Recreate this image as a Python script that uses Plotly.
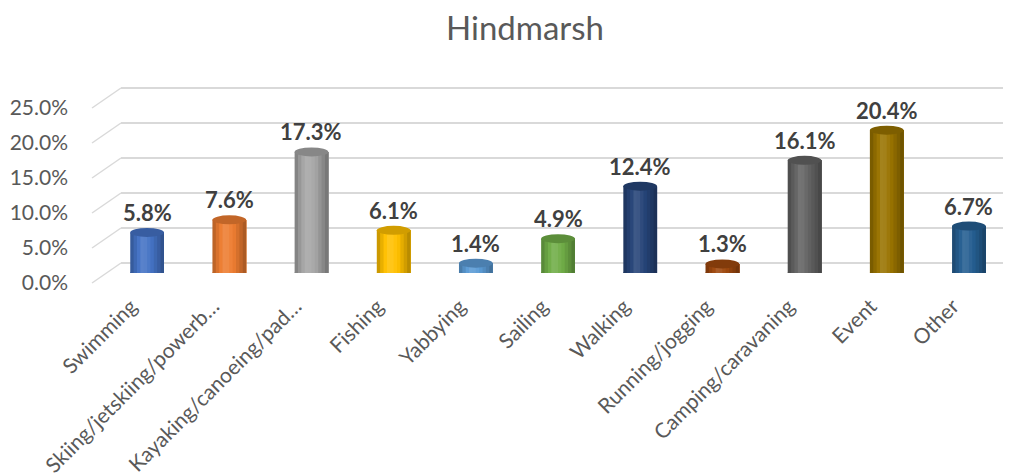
import numpy as np
import plotly.graph_objects as go

# data
categories = [
    "Swimming",
    "Skiing/jetskiing/powerb…",
    "Kayaking/canoeing/pad…",
    "Fishing",
    "Yabbying",
    "Sailing",
    "Walking",
    "Running/jogging",
    "Camping/caravaning",
    "Event",
    "Other",
]
shares = [0.058, 0.076, 0.173, 0.061, 0.014, 0.049, 0.124, 0.013, 0.161, 0.204, 0.067]
y_ticks = [0.0, 0.05, 0.10, 0.15, 0.20, 0.25]
chart_title = "Hindmarsh"

# office palette, one per bar
bar_colors = [
    "#4472C4", "#ED7D31", "#A5A5A5", "#FFC000", "#5B9BD5", "#70AD47",
    "#264478", "#9E480E", "#636363", "#997300", "#255E91",
]

# the page body has the default 8px margin, so work in page pixels and shift
OFF = 8
W, H = 1011 - OFF, 476 - OFF
FONT = "Lato"
GRID = "#D9D9D9"
TEXT = "#595959"
BAR_W = 0.41
N_STRIPS = 10
ELL = 0.0064  # half height of the cylinder ellipses, in data units
PAD = 0.005   # so the boundary gridlines (0% and 25%) still get drawn


def px(p):
    return (p - OFF) / W


def py(p):
    return 1 - (p - OFF) / H


def shade(hex_color: str, f: float) -> str:
    hex_color = hex_color.lstrip("#")
    rgb = [int(hex_color[i:i + 2], 16) for i in (0, 2, 4)]
    if f >= 1:
        rgb = [c + (255 - c) * (f - 1) for c in rgb]
    else:
        rgb = [c * f for c in rgb]
    return "rgb({},{},{})".format(*[int(round(min(255, max(0, c)))) for c in rgb])


# planes of the fake 3d box (pixel row of 0% and px per unit)
BACK_Y0, FRONT_Y0, BAR_Y0, SCALE = 263, 283, 273, 700
BACK_X, FRONT_X = 121, 92

fig = go.Figure()

# subplot 1: back wall with the gridlines
fig.add_trace(go.Scatter(x=[0], y=[0], mode="markers", marker=dict(opacity=0),
                         hoverinfo="skip", showlegend=False, xaxis="x", yaxis="y"))

# subplot 3: front edge carrying the tick labels
fig.add_trace(go.Scatter(x=[0], y=[0], mode="markers", marker=dict(opacity=0),
                         hoverinfo="skip", showlegend=False, xaxis="x3", yaxis="y3"))

# subplot 2: cylinders, each strip reaches the right edge so no seams show
idx = list(range(len(categories)))
stops_t = [0.0, 0.18, 0.38, 0.65, 0.85, 1.0]
stops_f = [0.74, 0.95, 1.14, 0.98, 0.82, 0.68]
for j in range(N_STRIPS):
    t = (j + 0.5) / N_STRIPS
    f = float(np.interp(t, stops_t, stops_f))
    left = -BAR_W / 2 + j * BAR_W / N_STRIPS
    fig.add_trace(
        go.Bar(
            x=idx,
            y=shares,
            width=BAR_W / 2 - left,
            offset=left,
            marker=dict(color=[shade(c, f) for c in bar_colors], line=dict(width=0)),
            hoverinfo="skip",
            showlegend=False,
            xaxis="x2",
            yaxis="y2",
        )
    )

shapes = []
# side wall diagonals joining front labels to back gridlines
for v in y_ticks:
    shapes.append(dict(
        type="line", xref="paper", yref="paper",
        x0=px(FRONT_X), y0=py(FRONT_Y0 - SCALE * v),
        x1=px(BACK_X), y1=py(BACK_Y0 - SCALE * v),
        line=dict(color=GRID, width=1.5), layer="below",
    ))

for i, (v, c) in enumerate(zip(shares, bar_colors)):
    # bottom rim
    shapes.append(dict(
        type="circle", xref="x2", yref="y2",
        x0=i - BAR_W / 2, x1=i + BAR_W / 2, y0=-ELL, y1=ELL,
        fillcolor=shade(c, 0.88), line=dict(width=0), layer="below",
    ))
    # top cap
    shapes.append(dict(
        type="circle", xref="x2", yref="y2",
        x0=i - BAR_W / 2, x1=i + BAR_W / 2, y0=v - ELL, y1=v + ELL,
        fillcolor=shade(c, 0.82), line=dict(width=0), layer="above",
    ))

annotations = [
    dict(
        x=i, y=v, xref="x2", yref="y2", text=f"{v:.1%}", showarrow=False,
        yanchor="middle", yshift=20,
        font=dict(family=FONT, size=22, color="#404040", weight="bold"),
    )
    for i, v in enumerate(shares)
]

fig.update_layout(
    width=W,
    height=H,
    autosize=False,
    margin=dict(l=0, r=0, t=0, b=0),
    paper_bgcolor="white",
    plot_bgcolor="rgba(0,0,0,0)",
    barmode="overlay",
    showlegend=False,
    title=dict(
        text=chart_title,
        x=px(525), xanchor="center",
        y=py(17), yanchor="top",
        font=dict(family=FONT, size=33, color=TEXT),
    ),
    xaxis=dict(domain=[px(BACK_X), px(1005)], range=[0, 1], visible=False, fixedrange=True),
    yaxis=dict(
        domain=[py(BACK_Y0 + SCALE * PAD), py(BACK_Y0 - SCALE * (0.25 + PAD))],
        range=[-PAD, 0.25 + PAD],
        tickvals=y_ticks, showgrid=True, gridcolor=GRID, gridwidth=1.5,
        zeroline=False, showticklabels=False, showline=False, anchor="x",
        automargin=False,
    ),
    xaxis3=dict(domain=[px(69), px(80)], range=[0, 1], visible=False, anchor="y3"),
    yaxis3=dict(
        domain=[py(FRONT_Y0), py(FRONT_Y0 - SCALE * 0.25)], range=[0, 0.25],
        tickvals=y_ticks, tickformat=".1%", showgrid=False, zeroline=False,
        showline=False, ticks="", anchor="x3", automargin=False,
        tickfont=dict(family=FONT, size=21, color=TEXT),
    ),
    xaxis2=dict(
        domain=[px(106), px(1010)], range=[-0.5, len(categories) - 0.5],
        tickvals=idx, ticktext=categories, tickangle=-45,
        showgrid=False, zeroline=False, showline=False, ticks="",
        ticklabelstandoff=16, ticklabelshift=-16,
        anchor="y2", automargin=False,
        tickfont=dict(family=FONT, size=21, color=TEXT),
    ),
    yaxis2=dict(
        domain=[py(BAR_Y0), py(BAR_Y0 - SCALE * 0.25)], range=[0, 0.25],
        visible=False, anchor="x2", showgrid=False, zeroline=False,
    ),
    shapes=shapes,
    annotations=annotations,
)

fig.write_html("out.html")
